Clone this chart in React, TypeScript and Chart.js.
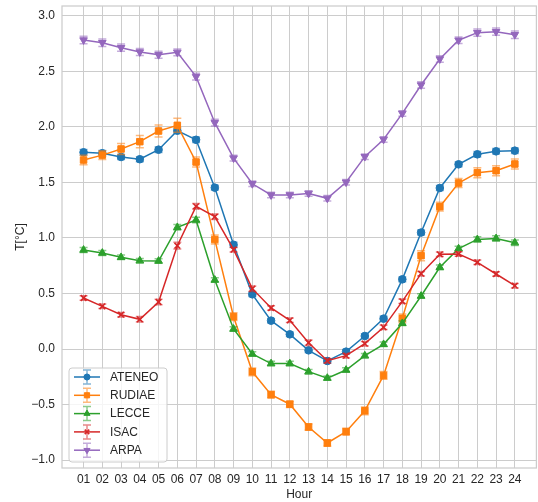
import React, { useEffect, useRef } from "react";
import { Chart, registerables } from "chart.js";

Chart.register(...registerables);

const hours = [1, 2, 3, 4, 5, 6, 7, 8, 9, 10, 11, 12, 13, 14, 15, 16, 17, 18, 19, 20, 21, 22, 23, 24];
const hourLabels = ["01", "02", "03", "04", "05", "06", "07", "08", "09", "10", "11", "12", "13", "14", "15", "16", "17", "18", "19", "20", "21", "22", "23", "24"];
const yTicks = [-1.0, -0.5, 0.0, 0.5, 1.0, 1.5, 2.0, 2.5, 3.0];
const yTickLabels = ["\u22121.0", "\u22120.5", "0.0", "0.5", "1.0", "1.5", "2.0", "2.5", "3.0"];

const ateneo = [1.77, 1.762, 1.728, 1.708, 1.794, 1.965, 1.883, 1.452, 0.938, 0.492, 0.255, 0.132, -0.012, -0.108, -0.024, 0.117, 0.273, 0.627, 1.048, 1.449, 1.662, 1.752, 1.779, 1.785];
const ateneoErr = [0.025, 0.025, 0.022, 0.022, 0.025, 0.025, 0.025, 0.022, 0.022, 0.02, 0.02, 0.02, 0.02, 0.02, 0.02, 0.02, 0.022, 0.022, 0.022, 0.022, 0.022, 0.025, 0.025, 0.025];
const rudiae = [1.701, 1.745, 1.8, 1.866, 1.962, 2.013, 1.683, 0.985, 0.291, -0.205, -0.411, -0.497, -0.702, -0.846, -0.744, -0.556, -0.238, 0.276, 0.84, 1.281, 1.494, 1.587, 1.605, 1.665];
const rudiaeErr = [0.042, 0.04, 0.05, 0.055, 0.055, 0.063, 0.045, 0.04, 0.035, 0.035, 0.03, 0.03, 0.03, 0.03, 0.03, 0.035, 0.035, 0.04, 0.045, 0.04, 0.04, 0.045, 0.045, 0.045];
const lecce = [0.891, 0.864, 0.825, 0.795, 0.792, 1.095, 1.161, 0.621, 0.18, -0.045, -0.131, -0.131, -0.204, -0.262, -0.189, -0.06, 0.042, 0.231, 0.477, 0.735, 0.903, 0.986, 0.995, 0.957];
const lecceErr = [0.022, 0.022, 0.02, 0.02, 0.02, 0.025, 0.025, 0.02, 0.02, 0.02, 0.02, 0.02, 0.02, 0.02, 0.02, 0.02, 0.02, 0.02, 0.02, 0.022, 0.022, 0.025, 0.025, 0.025];
const isac = [0.459, 0.384, 0.309, 0.267, 0.423, 0.93, 1.284, 1.191, 0.894, 0.543, 0.369, 0.258, 0.057, -0.105, -0.06, 0.048, 0.195, 0.429, 0.678, 0.852, 0.855, 0.78, 0.675, 0.57];
const isacErr = [0.02, 0.02, 0.02, 0.025, 0.025, 0.03, 0.025, 0.025, 0.02, 0.025, 0.02, 0.02, 0.025, 0.02, 0.02, 0.02, 0.02, 0.02, 0.02, 0.02, 0.02, 0.02, 0.02, 0.02];
const arpa = [2.781, 2.757, 2.712, 2.673, 2.648, 2.67, 2.451, 2.037, 1.718, 1.487, 1.386, 1.386, 1.4, 1.356, 1.501, 1.731, 1.886, 2.12, 2.376, 2.61, 2.779, 2.847, 2.856, 2.829];
const arpaErr = [0.034, 0.034, 0.032, 0.032, 0.032, 0.03, 0.03, 0.03, 0.025, 0.025, 0.025, 0.025, 0.025, 0.025, 0.025, 0.025, 0.025, 0.025, 0.03, 0.03, 0.03, 0.032, 0.032, 0.034];

const seriesNames = ["ATENEO", "RUDIAE", "LECCE", "ISAC", "ARPA"];
const seriesValues = [ateneo, rudiae, lecce, isac, arpa];
const seriesErrors = [ateneoErr, rudiaeErr, lecceErr, isacErr, arpaErr];
const seriesColors = ["#1f77b4", "#ff7f0e", "#2ca02c", "#d62728", "#9467bd"];
const errColors = ["rgba(31,119,180,0.55)", "rgba(255,127,14,0.55)", "rgba(44,160,44,0.55)", "rgba(214,39,40,0.55)", "rgba(148,103,189,0.55)"];
const pointStyles = ["circle", "rect", "triangle", "crossRot", "triangle"];
const pointRadii = [3.8, 4.6, 4.4, 4, 4.4];
const pointRotations = [0, 0, 0, 0, 180];

const FONT = "'Liberation Sans', Arial, 'DejaVu Sans', sans-serif";
const TEXT = "#262626";
const GRID = "#cccccc";

const errorBarPlugin = {
  id: "errorBars",
  beforeDatasetDraw(chart: any, args: any) {
    const i = args.index;
    const ctx = chart.ctx as CanvasRenderingContext2D;
    const xs = chart.scales.x;
    const ys = chart.scales.y;
    const vals = seriesValues[i];
    const errs = seriesErrors[i];
    ctx.save();
    ctx.strokeStyle = errColors[i];
    ctx.lineWidth = 1.5;
    ctx.beginPath();
    for (let k = 0; k < hours.length; k++) {
      const px = xs.getPixelForValue(hours[k]);
      const y1 = ys.getPixelForValue(vals[k] + errs[k]);
      const y2 = ys.getPixelForValue(vals[k] - errs[k]);
      ctx.moveTo(px, y1);
      ctx.lineTo(px, y2);
      ctx.moveTo(px - 4, y1);
      ctx.lineTo(px + 4, y1);
      ctx.moveTo(px - 4, y2);
      ctx.lineTo(px + 4, y2);
    }
    ctx.stroke();
    ctx.restore();
  },
};

const framePlugin = {
  id: "frame",
  beforeDatasetsDraw(chart: any) {
    const { ctx, chartArea } = chart;
    ctx.save();
    ctx.strokeStyle = GRID;
    ctx.lineWidth = 1.25;
    ctx.strokeRect(chartArea.left, chartArea.top, chartArea.right - chartArea.left, chartArea.bottom - chartArea.top);
    ctx.restore();
  },
};

const legendPlugin = {
  id: "customLegend",
  afterDraw(chart: any) {
    const { ctx, chartArea } = chart;
    const left = chartArea.left + 7;
    const bottom = chartArea.bottom - 6;
    const w = 98;
    const h = 94;
    const top = bottom - h;
    ctx.save();
    ctx.fillStyle = "rgba(255,255,255,0.8)";
    ctx.strokeStyle = GRID;
    ctx.lineWidth = 1;
    ctx.beginPath();
    const r = 3;
    ctx.moveTo(left + r, top);
    ctx.lineTo(left + w - r, top);
    ctx.arcTo(left + w, top, left + w, top + r, r);
    ctx.lineTo(left + w, top + h - r);
    ctx.arcTo(left + w, top + h, left + w - r, top + h, r);
    ctx.lineTo(left + r, top + h);
    ctx.arcTo(left, top + h, left, top + h - r, r);
    ctx.lineTo(left, top + r);
    ctx.arcTo(left, top, left + r, top, r);
    ctx.closePath();
    ctx.fill();
    ctx.stroke();
    for (let i = 0; i < seriesNames.length; i++) {
      const cy = top + 9 + i * 18.3;
      const x0 = left + 5;
      const x1 = left + 31;
      const cx = (x0 + x1) / 2;
      ctx.strokeStyle = seriesColors[i];
      ctx.lineWidth = 1.5;
      ctx.beginPath();
      ctx.moveTo(x0, cy);
      ctx.lineTo(x1, cy);
      ctx.stroke();
      ctx.strokeStyle = errColors[i];
      ctx.beginPath();
      ctx.moveTo(cx, cy - 7);
      ctx.lineTo(cx, cy + 7);
      ctx.moveTo(cx - 4, cy - 7);
      ctx.lineTo(cx + 4, cy - 7);
      ctx.moveTo(cx - 4, cy + 7);
      ctx.lineTo(cx + 4, cy + 7);
      ctx.stroke();
      const meta = chart.getDatasetMeta(i);
      const el = meta && meta.data && meta.data[0];
      if (el) {
        ctx.save();
        const o = el.options;
        const shim = { ...o, radius: pointRadii[i] * 0.8 };
        const saveX = el.x;
        const saveY = el.y;
        el.x = cx;
        el.y = cy;
        const saveOpts = el.options;
        el.options = shim;
        el.draw(ctx, undefined);
        el.options = saveOpts;
        el.x = saveX;
        el.y = saveY;
        ctx.restore();
      }
      ctx.fillStyle = TEXT;
      ctx.font = `12px ${FONT}`;
      ctx.textBaseline = "middle";
      ctx.textAlign = "left";
      ctx.fillText(seriesNames[i], left + 41, cy + 0.5);
    }
    ctx.restore();
  },
};

export default function App() {
  const canvasRef = useRef<HTMLCanvasElement | null>(null);

  useEffect(() => {
    if (!canvasRef.current) return;
    Chart.defaults.font.family = FONT;
    Chart.defaults.color = TEXT;
    const datasets = seriesNames.map((name, i) => ({
      label: name,
      data: hours.map((h, k) => ({ x: h, y: seriesValues[i][k] })),
      borderColor: seriesColors[i],
      backgroundColor: seriesColors[i],
      borderWidth: 1.5,
      pointStyle: pointStyles[i] as any,
      pointRadius: pointRadii[i],
      pointRotation: pointRotations[i],
      pointBorderWidth: i === 3 ? 1.6 : 1,
      pointBackgroundColor: seriesColors[i],
      pointBorderColor: seriesColors[i],
      tension: 0,
      order: 5 - i,
    }));
    const chart = new Chart(canvasRef.current, {
      type: "line",
      data: { datasets },
      options: {
        animation: false,
        responsive: false,
        maintainAspectRatio: false,
        layout: { padding: { left: 0, right: 0, top: 6, bottom: 0 } },
        plugins: {
          legend: { display: false },
          tooltip: { enabled: false },
        },
        scales: {
          x: {
            type: "linear",
            min: -0.15,
            max: 25.15,
            afterBuildTicks: (scale: any) => {
              scale.ticks = hours.map((v) => ({ value: v }));
            },
            afterFit: (scale: any) => {
              scale.height = 34;
              scale.paddingLeft = 0;
              scale.paddingRight = 0;
            },
            ticks: {
              autoSkip: false,
              maxRotation: 0,
              padding: 4,
              font: { size: 12 },
              color: TEXT,
              callback: (value: any) => {
                const idx = hours.indexOf(Number(value));
                return idx >= 0 ? hourLabels[idx] : "";
              },
            },
            grid: { color: GRID, lineWidth: 1, drawTicks: false },
            border: { display: false },
            title: {
              display: true,
              text: "Hour",
              font: { size: 12 },
              color: TEXT,
              padding: { top: 0, bottom: 0 },
            },
          },
          y: {
            type: "linear",
            min: -1.071,
            max: 3.087,
            afterBuildTicks: (scale: any) => {
              scale.ticks = yTicks.map((v) => ({ value: v }));
            },
            afterFit: (scale: any) => {
              scale.width = 62;
              scale.paddingTop = 0;
              scale.paddingBottom = 0;
            },
            ticks: {
              padding: 7,
              font: { size: 12 },
              color: TEXT,
              callback: (value: any) => {
                const idx = yTicks.findIndex((t) => Math.abs(t - Number(value)) < 1e-6);
                return idx >= 0 ? yTickLabels[idx] : "";
              },
            },
            grid: { color: GRID, lineWidth: 1, drawTicks: false },
            border: { display: false },
            title: {
              display: true,
              text: "T[°C]",
              font: { size: 12 },
              color: TEXT,
              padding: { top: 13, bottom: 0 },
            },
          },
        },
      },
      plugins: [framePlugin, errorBarPlugin, legendPlugin],
    });
    return () => chart.destroy();
  }, []);

  return (
    <div style={{ position: "fixed", left: 0, top: 0, width: 538, height: 502, overflow: "hidden", background: "#ffffff" }}>
      <canvas ref={canvasRef} width={542} height={502} style={{ width: 542, height: 502, display: "block" }} />
    </div>
  );
}
